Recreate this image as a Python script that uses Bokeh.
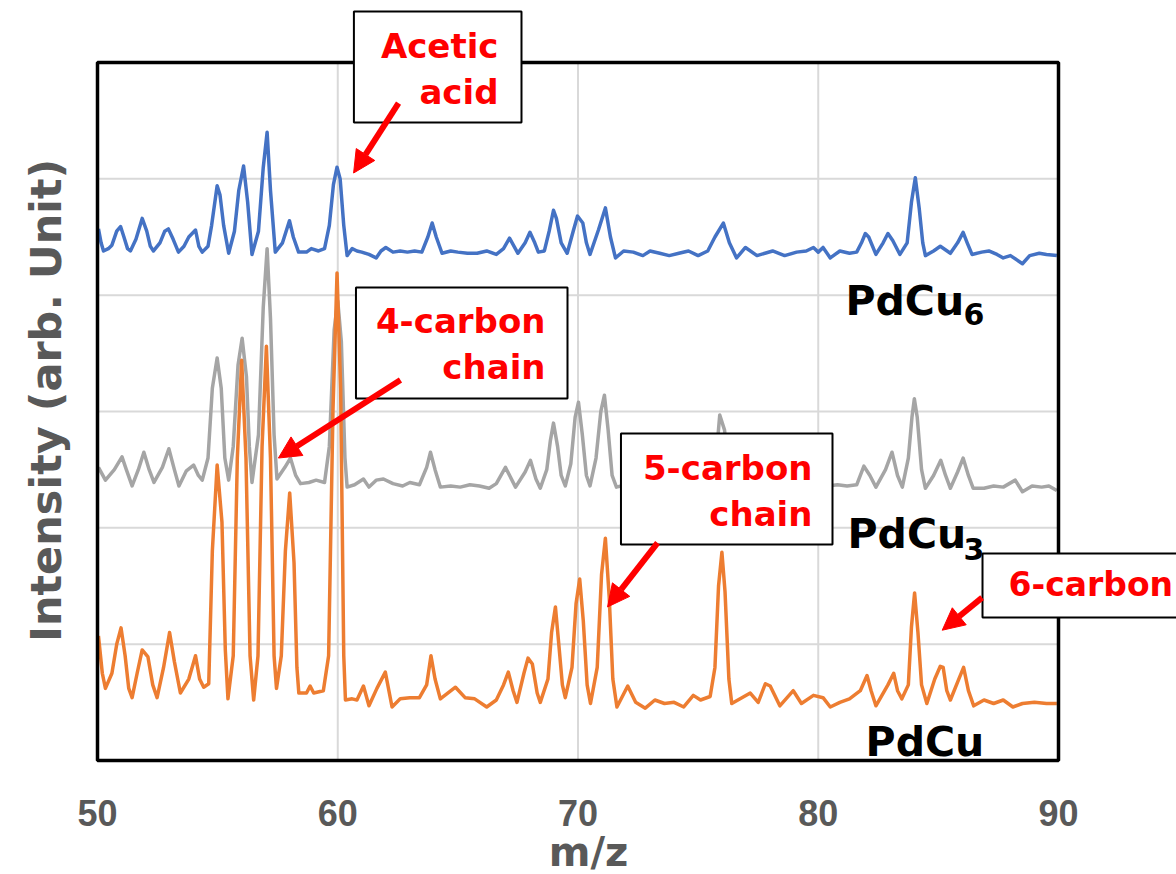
from bokeh.plotting import figure
from bokeh.models import Range1d, FixedTicker, Label, Arrow, NormalHead
from bokeh.embed import file_html
from bokeh.resources import INLINE
import math

# ---- data (m/z, intensity in arbitrary stacked units) ----
mz_pdcu6 = [50.04, 50.15, 50.25, 50.45, 50.6, 50.8, 50.96, 51.1, 51.25, 51.37, 51.6, 51.86, 52.05, 52.2,
            52.33, 52.6, 52.8, 52.95, 53.15, 53.37, 53.6, 53.8, 54.08, 54.22, 54.36, 54.6, 54.75, 54.98,
            55.1, 55.25, 55.46, 55.7, 55.88, 56.08, 56.25, 56.43, 56.7, 56.9, 57.06, 57.2, 57.4, 57.7,
            57.99, 58.15, 58.37, 58.7, 58.9, 59.2, 59.45, 59.65, 59.82, 59.97, 60.1, 60.25, 60.39, 60.6,
            60.8, 61.0, 61.3, 61.6, 61.8, 62.0, 62.3, 62.6, 62.9, 63.2, 63.5, 63.75, 63.93, 64.1, 64.34,
            64.7, 65.0, 65.4, 65.8, 66.2, 66.6, 66.9, 67.15, 67.5, 67.8, 68.0, 68.2, 68.35, 68.6, 68.8,
            68.98, 69.1, 69.3, 69.55, 69.8, 69.98, 70.2, 70.35, 70.5, 70.85, 71.14, 71.35, 71.56, 71.9,
            72.3, 72.7, 73.0, 73.4, 73.8, 74.2, 74.6, 75.0, 75.4, 75.7, 76.05, 76.3, 76.6, 76.97, 77.45,
            78.1, 78.6, 79.1, 79.5, 79.8, 80.0, 80.2, 80.5, 80.9, 81.3, 81.6, 81.8, 81.96, 82.1, 82.4,
            82.7, 82.9, 83.1, 83.4, 83.7, 83.88, 84.04, 84.2, 84.35, 84.46, 84.8, 85.08, 85.5, 85.8,
            86.03, 86.2, 86.4, 86.8, 87.1, 87.44, 87.7, 88.0, 88.5, 88.8, 89.2, 89.5, 89.93]
int_pdcu6 = [4.57, 4.45, 4.38, 4.40, 4.43, 4.55, 4.59, 4.50, 4.40, 4.38, 4.48, 4.66, 4.55, 4.42,
             4.38, 4.45, 4.55, 4.57, 4.48, 4.37, 4.42, 4.50, 4.56, 4.42, 4.37, 4.42, 4.60, 4.94,
             4.86, 4.60, 4.36, 4.55, 4.90, 5.11, 4.80, 4.35, 4.55, 5.10, 5.40, 4.90, 4.37, 4.45,
             4.64, 4.50, 4.37, 4.37, 4.40, 4.38, 4.40, 4.60, 4.95, 5.10, 5.00, 4.60, 4.34, 4.40,
             4.38, 4.37, 4.35, 4.32, 4.38, 4.41, 4.37, 4.38, 4.37, 4.38, 4.37, 4.50, 4.62, 4.50, 4.36,
             4.38, 4.37, 4.36, 4.36, 4.38, 4.35, 4.40, 4.49, 4.36, 4.45, 4.54, 4.45, 4.37, 4.38, 4.55,
             4.73, 4.66, 4.45, 4.36, 4.55, 4.68, 4.62, 4.45, 4.35, 4.56, 4.75, 4.50, 4.32, 4.38,
             4.37, 4.34, 4.38, 4.36, 4.34, 4.36, 4.38, 4.34, 4.38, 4.50, 4.62, 4.45, 4.32, 4.41, 4.34,
             4.38, 4.34, 4.37, 4.38, 4.41, 4.37, 4.41, 4.32, 4.38, 4.36, 4.37, 4.45, 4.53, 4.50, 4.35,
             4.45, 4.53, 4.47, 4.35, 4.45, 4.80, 5.01, 4.75, 4.45, 4.34, 4.38, 4.42, 4.36, 4.45,
             4.54, 4.45, 4.35, 4.37, 4.38, 4.35, 4.32, 4.34, 4.27, 4.34, 4.36, 4.35, 4.34]

mz_pdcu3 = [50.04, 50.33, 50.7, 51.02, 51.2, 51.44, 51.7, 51.93, 52.15, 52.35, 52.7, 52.97, 53.2, 53.39,
            53.7, 54.0, 54.2, 54.36, 54.6, 54.78, 54.98, 55.15, 55.3, 55.46, 55.65, 55.85, 56.02, 56.2,
            56.32, 56.43, 56.7, 56.9, 57.06, 57.2, 57.35, 57.47, 57.8, 58.03, 58.25, 58.45, 58.8, 59.1,
            59.45, 59.65, 59.85, 60.0, 60.15, 60.3, 60.39, 60.7, 61.07, 61.3, 61.6, 61.9, 62.3, 62.7,
            63.0, 63.4, 63.7, 63.86, 64.05, 64.27, 64.7, 65.1, 65.5, 65.9, 66.3, 66.6, 66.98, 67.4,
            67.8, 68.02, 68.25, 68.43, 68.7, 68.85, 68.98, 69.15, 69.3, 69.47, 69.7, 69.88, 70.02, 70.18,
            70.35, 70.5, 70.75, 70.95, 71.1, 71.25, 71.42, 71.6, 72.0, 72.5, 73.0, 73.5, 74.0, 74.5,
            75.0, 75.4, 75.7, 75.9, 76.1, 76.3, 76.5, 77.0, 77.4, 78.0, 78.5, 79.0, 79.5, 80.0, 80.4,
            80.8, 81.2, 81.6, 81.9, 82.15, 82.4, 82.8, 83.07, 83.3, 83.5, 83.75, 83.9, 84.0, 84.12,
            84.3, 84.46, 84.8, 85.1, 85.3, 85.5, 85.8, 86.03, 86.25, 86.45, 86.9, 87.3, 87.7, 88.2,
            88.5, 88.9, 89.3, 89.6, 89.93]
int_pdcu3 = [2.52, 2.41, 2.50, 2.61, 2.50, 2.36, 2.50, 2.65, 2.50, 2.39, 2.52, 2.68, 2.50, 2.36,
             2.49, 2.54, 2.45, 2.41, 2.60, 3.20, 3.46, 3.20, 2.60, 2.41, 2.70, 3.40, 3.63, 3.30,
             2.70, 2.39, 2.80, 3.90, 4.40, 3.80, 2.80, 2.42, 2.52, 2.60, 2.45, 2.38, 2.39, 2.41,
             2.39, 2.70, 3.70, 3.95, 3.60, 2.60, 2.35, 2.37, 2.42, 2.35, 2.41, 2.42, 2.38, 2.36,
             2.39, 2.37, 2.52, 2.65, 2.50, 2.35, 2.36, 2.35, 2.37, 2.36, 2.34, 2.38, 2.52, 2.35,
             2.48, 2.58, 2.42, 2.34, 2.50, 2.75, 2.90, 2.70, 2.45, 2.36, 2.55, 2.95, 3.08, 2.80,
             2.45, 2.36, 2.60, 3.00, 3.14, 2.85, 2.45, 2.35, 2.37, 2.36, 2.37, 2.35, 2.36, 2.36,
             2.37, 2.36, 2.49, 2.97, 2.84, 2.45, 2.35, 2.42, 2.35, 2.41, 2.36, 2.39, 2.36, 2.39, 2.36,
             2.37, 2.36, 2.37, 2.53, 2.45, 2.35, 2.50, 2.65, 2.45, 2.35, 2.60, 2.95, 3.11, 2.95,
             2.50, 2.34, 2.45, 2.58, 2.45, 2.34, 2.48, 2.60, 2.45, 2.34, 2.34, 2.36, 2.35, 2.41,
             2.31, 2.36, 2.35, 2.36, 2.32]

mz_pdcu = [50.04, 50.2, 50.33, 50.6, 50.8, 50.98, 51.15, 51.3, 51.44, 51.65, 51.86, 52.1, 52.3, 52.48,
           52.75, 53.0, 53.2, 53.45, 53.8, 54.08, 54.25, 54.42, 54.63, 54.78, 54.98, 55.18, 55.32, 55.43,
           55.65, 55.82, 56.0, 56.18, 56.35, 56.5, 56.68, 56.85, 57.03, 57.2, 57.35, 57.45, 57.65, 57.82,
           58.0, 58.18, 58.3, 58.38, 58.7, 58.85, 59.0, 59.4, 59.62, 59.8, 59.97, 60.12, 60.25, 60.32,
           60.6, 60.8, 61.07, 61.3, 61.63, 61.98, 62.26, 62.6, 63.0, 63.4, 63.7, 63.88, 64.05, 64.27,
           64.9, 65.3, 65.7, 66.2, 66.6, 66.9, 67.1, 67.3, 67.46, 67.75, 67.92, 68.1, 68.3, 68.43, 68.75,
           68.9, 69.06, 69.2, 69.35, 69.47, 69.75, 69.92, 70.07, 70.22, 70.38, 70.52, 70.8, 70.98, 71.14,
           71.3, 71.45, 71.62, 72.07, 72.4, 72.8, 73.2, 73.6, 74.0, 74.4, 74.8, 75.1, 75.5, 75.7, 75.85,
           75.99, 76.12, 76.28, 76.4, 77.17, 77.5, 77.8, 78.0, 78.4, 78.96, 79.3, 79.8, 80.2, 80.5,
           80.9, 81.3, 81.75, 82.03, 82.2, 82.4, 82.9, 83.14, 83.3, 83.48, 83.75, 83.88, 84.01, 84.15,
           84.3, 84.52, 84.85, 85.08, 85.2, 85.35, 85.5, 85.85, 86.05, 86.25, 86.47, 86.9, 87.3, 87.7,
           88.1, 88.5, 89.0, 89.5, 89.93]
int_pdcu = [1.07, 0.75, 0.62, 0.75, 1.00, 1.14, 0.90, 0.62, 0.54, 0.75, 0.95, 0.89, 0.65, 0.54,
            0.80, 1.10, 0.85, 0.58, 0.70, 0.90, 0.70, 0.63, 0.66, 1.80, 2.54, 2.05, 0.95, 0.53,
            0.90, 2.60, 3.44, 2.60, 0.90, 0.52, 0.90, 2.70, 3.56, 2.60, 0.90, 0.62, 0.90, 1.80,
            2.30, 1.70, 0.80, 0.58, 0.58, 0.64, 0.58, 0.60, 0.90, 3.00, 4.19, 3.20, 0.90, 0.52,
            0.53, 0.52, 0.64, 0.47, 0.62, 0.76, 0.46, 0.53, 0.54, 0.54, 0.65, 0.90, 0.70, 0.53,
            0.63, 0.54, 0.53, 0.46, 0.52, 0.65, 0.76, 0.60, 0.50, 0.75, 0.88, 0.83, 0.58, 0.50, 0.70,
            1.10, 1.32, 1.00, 0.65, 0.54, 0.80, 1.35, 1.56, 1.20, 0.65, 0.49, 0.80, 1.60, 1.91,
            1.40, 0.70, 0.46, 0.64, 0.50, 0.45, 0.52, 0.49, 0.50, 0.46, 0.56, 0.52, 0.55, 0.80, 1.50,
            1.79, 1.45, 0.70, 0.49, 0.58, 0.50, 0.66, 0.64, 0.47, 0.60, 0.49, 0.56, 0.54, 0.46,
            0.50, 0.53, 0.60, 0.73, 0.60, 0.47, 0.65, 0.75, 0.60, 0.53, 0.65, 1.15, 1.44, 1.10,
            0.65, 0.49, 0.70, 0.81, 0.80, 0.60, 0.52, 0.70, 0.80, 0.60, 0.47, 0.52, 0.49, 0.52,
            0.46, 0.49, 0.50, 0.49, 0.49]

x_ticks = [50, 60, 70, 80, 90]
x_inner_grid = [60, 70, 80]
y_grid = [1, 2, 3, 4, 5]
x_lo, x_hi = 50, 90
y_lo, y_hi = 0, 6

GRAY_TXT = "#595959"
RED = "#FF0000"

# frame covers the whole canvas; the plotted box is x 50..90, y 0..6
p = figure(width=1176, height=874, x_range=Range1d(45.9625, 94.9115), y_range=Range1d(-0.97994, 6.53295),
           output_backend="svg", toolbar_location=None,
           min_border_left=0, min_border_right=0, min_border_top=0, min_border_bottom=0)
p.background_fill_color = "white"
p.border_fill_color = "white"
p.outline_line_color = None
p.xgrid.visible = False
p.ygrid.visible = False
p.yaxis.visible = False

xa = p.xaxis[0]
xa.ticker = FixedTicker(ticks=x_ticks)
xa.fixed_location = 0
xa.axis_line_color = None
xa.major_tick_line_color = None
xa.minor_tick_line_color = None
xa.major_label_standoff = 33
xa.major_label_text_font = "Liberation Sans"
xa.major_label_text_font_style = "bold"
xa.major_label_text_font_size = "36px"
xa.major_label_text_color = GRAY_TXT
xa.axis_label = "m/z"
xa.axis_label_standoff = 0
xa.axis_label_text_font = "DejaVu Sans"
xa.axis_label_text_font_style = "bold"
xa.axis_label_text_font_size = "40px"
xa.axis_label_text_color = GRAY_TXT

# grid lines inside the plotted box
p.segment(x0=x_inner_grid, y0=[y_lo] * len(x_inner_grid), x1=x_inner_grid, y1=[y_hi] * len(x_inner_grid),
          line_color="#d9d9d9", line_width=2)
p.segment(x0=[x_lo] * len(y_grid), y0=y_grid, x1=[x_hi] * len(y_grid), y1=y_grid,
          line_color="#d9d9d9", line_width=2)

p.line(mz_pdcu6, int_pdcu6, line_color="#4472C4", line_width=3.5, line_join="round")
p.line(mz_pdcu3, int_pdcu3, line_color="#A5A5A5", line_width=3.5, line_join="round")
p.line(mz_pdcu, int_pdcu, line_color="#ED7D31", line_width=3.5, line_join="round")

# plot box border
p.quad(left=[x_lo], right=[x_hi], bottom=[y_lo], top=[y_hi], fill_color=None,
       line_color="black", line_width=3.5)

# y axis title
p.add_layout(Label(x=47.84, y=3.095, text="Intensity (arb. Unit)", angle=math.pi / 2,
                   text_align="center", text_baseline="middle",
                   text_font="DejaVu Sans", text_font_style="bold", text_font_size="43px",
                   text_color=GRAY_TXT))

# series labels
def series_label(x, y, txt, size):
    p.add_layout(Label(x=x, y=y, text=txt, text_align="left", text_baseline="alphabetic",
                       text_font="DejaVu Sans", text_font_style="bold", text_font_size=size,
                       text_color="black"))

series_label(81.13, 3.954, "PdCu", "41px")
series_label(86.05, 3.834, "6", "30px")
series_label(81.22, 1.951, "PdCu", "41px")
series_label(86.05, 1.814, "3", "30px")
series_label(81.97, 0.155, "PdCu", "41px")

# annotation boxes (anchor = outer corner of the box)
def box_label(x, y, txt, align, size, pad):
    p.add_layout(Label(x=x, y=y, text=txt, text_align=align, text_baseline="top",
                       text_font="DejaVu Sans", text_font_style="bold", text_font_size=size,
                       text_color=RED, text_line_height=1.15,
                       background_fill_color="white", border_line_color="black", border_line_width=2,
                       padding=pad))

box_label(67.648, 6.438, "Acetic\nacid", "right", "34px", dict(left=27, right=23, top=14, bottom=11))
box_label(69.563, 4.066, "4-carbon\nchain", "right", "34px", dict(left=20, right=22, top=14, bottom=11))
box_label(80.593, 2.811, "5-carbon\nchain", "right", "34px", dict(left=22, right=20, top=15, bottom=10))
box_label(86.837, 1.779, "6-carbon", "left", "33px", dict(left=26, right=30, top=11, bottom=14))

# arrows
def red_arrow(xs, ys, xe, ye):
    p.add_layout(Arrow(end=NormalHead(size=22, fill_color=RED, line_color=RED),
                       x_start=xs, y_start=ys, x_end=xe, y_end=ye,
                       line_color=RED, line_width=6))

red_arrow(62.53, 5.65, 60.66, 5.05)
red_arrow(62.61, 3.27, 57.53, 2.60)
red_arrow(73.31, 1.87, 71.23, 1.32)
red_arrow(86.82, 1.40, 85.16, 1.12)

open("out.html", "w").write(file_html(p, INLINE))
